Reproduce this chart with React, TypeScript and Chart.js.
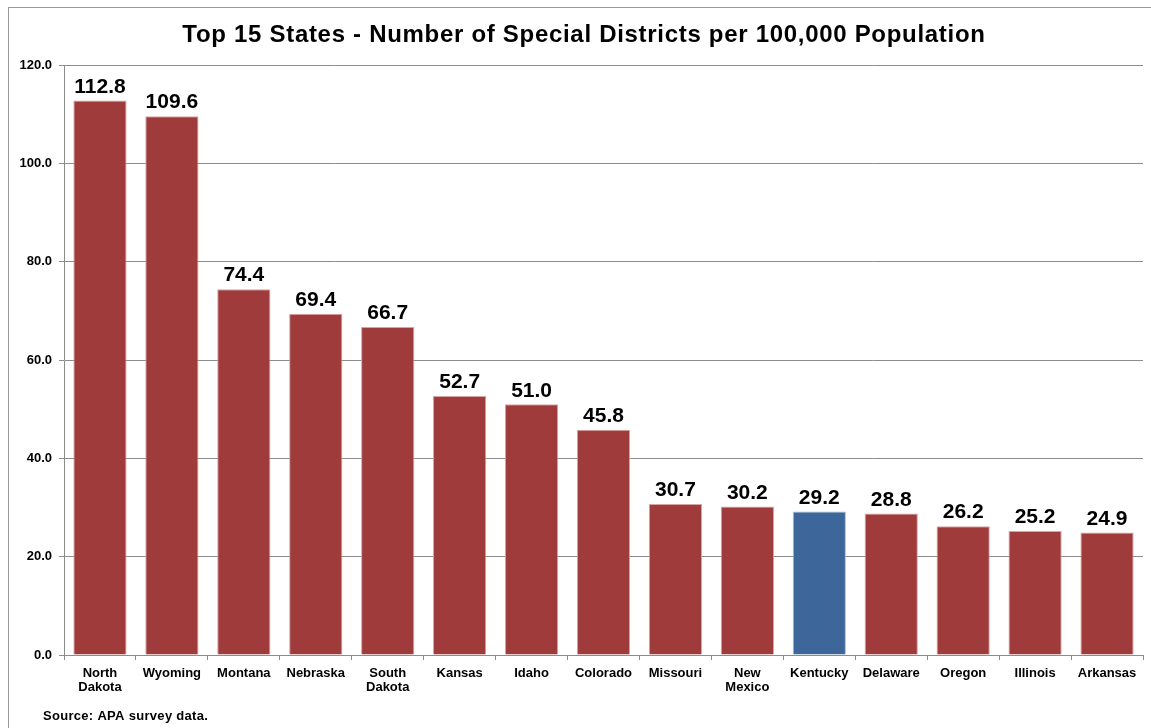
import React, { useEffect, useRef } from "react";
import { Chart, registerables } from "chart.js";

Chart.register(...registerables);

const TITLE = "Top 15 States - Number of Special Districts per 100,000 Population";
const SOURCE = "Source: APA survey data.";
const states: (string | string[])[] = [
  ["North", "Dakota"], "Wyoming", "Montana", "Nebraska", ["South", "Dakota"],
  "Kansas", "Idaho", "Colorado", "Missouri", ["New", "Mexico"],
  "Kentucky", "Delaware", "Oregon", "Illinois", "Arkansas",
];
const values = [112.8, 109.6, 74.4, 69.4, 66.7, 52.7, 51.0, 45.8, 30.7, 30.2, 29.2, 28.8, 26.2, 25.2, 24.9];
const highlight = "Kentucky";
const yTicks = { min: 0, max: 120, step: 20 };

const FONT = "'Liberation Sans', Arial, sans-serif";
const RED = "#9f3c3b";
const BLUE = "#3d679a";

export default function App() {
  const ref = useRef<HTMLCanvasElement | null>(null);
  useEffect(() => {
    if (!ref.current) return;
    const colors = states.map((s) => (s === highlight ? BLUE : RED));
    const borders = states.map((s) => (s === highlight ? "#a9bcd6" : "#d8a3a2"));
    const labelPlugin = {
      id: "extras",
      afterDatasetsDraw(chart: any) {
        const ctx = chart.ctx;
        const meta = chart.getDatasetMeta(0);
        ctx.save();
        ctx.fillStyle = "#000";
        ctx.font = `bold 21px ${FONT}`;
        ctx.textAlign = "center";
        ctx.textBaseline = "bottom";
        meta.data.forEach((bar: any, i: number) => {
          ctx.fillText(values[i].toFixed(1), bar.x, bar.y - 3);
        });
        ctx.restore();
      },
      afterDraw(chart: any) {
        const ctx = chart.ctx;
        ctx.save();
        ctx.fillStyle = "#000";
        ctx.font = `bold 24px ${FONT}`;
        (ctx as any).letterSpacing = "0.7px";
        ctx.textAlign = "center";
        ctx.textBaseline = "middle";
        ctx.fillText(TITLE, 575, 27);
        (ctx as any).letterSpacing = "0.3px";
        ctx.font = `bold 13px ${FONT}`;
        ctx.textAlign = "left";
        ctx.fillText(SOURCE, 34, 708);
        ctx.restore();
      },
    };
    const chart = new Chart(ref.current, {
      type: "bar",
      data: {
        labels: states,
        datasets: [
          {
            data: values,
            backgroundColor: colors,
            borderColor: borders,
            borderWidth: 1,
            barPercentage: 0.74,
            categoryPercentage: 1,
          },
        ],
      },
      options: {
        responsive: false,
        animation: false,
        layout: { padding: { top: 57, right: 8, left: 0, bottom: 0 } },
        plugins: { legend: { display: false }, tooltip: { enabled: false } },
        scales: {
          x: {
            afterFit: (s: any) => { s.height = 73; },
            grid: { display: true, drawOnChartArea: false, offset: true, tickLength: 5, color: "#8c8c8c" },
            border: { color: "#8c8c8c" },
            ticks: {
              color: "#000",
              font: { family: FONT, size: 13, weight: "bold", lineHeight: 1.12 },
              maxRotation: 0,
              autoSkip: false,
              padding: 6,
            },
          },
          y: {
            min: yTicks.min,
            max: yTicks.max,
            afterFit: (s: any) => { s.width = 55; },
            grid: { color: "#8c8c8c", tickLength: 5 },
            border: { color: "#8c8c8c" },
            ticks: {
              stepSize: yTicks.step,
              color: "#000",
              font: { family: FONT, size: 13, weight: "bold" },
              padding: 7,
              callback: (v: any) => Number(v).toFixed(1),
            },
          },
        },
      },
      plugins: [labelPlugin],
    });
    return () => chart.destroy();
  }, []);
  return (
    <div
      style={{
        position: "absolute",
        left: 8,
        top: 7,
        width: 1143,
        height: 721,
        borderTop: "1px solid #9a9a9a",
        borderLeft: "1px solid #9a9a9a",
        background: "#fff",
      }}
    >
      <canvas ref={ref} width={1142} height={720} style={{ display: "block" }} />
    </div>
  );
}
